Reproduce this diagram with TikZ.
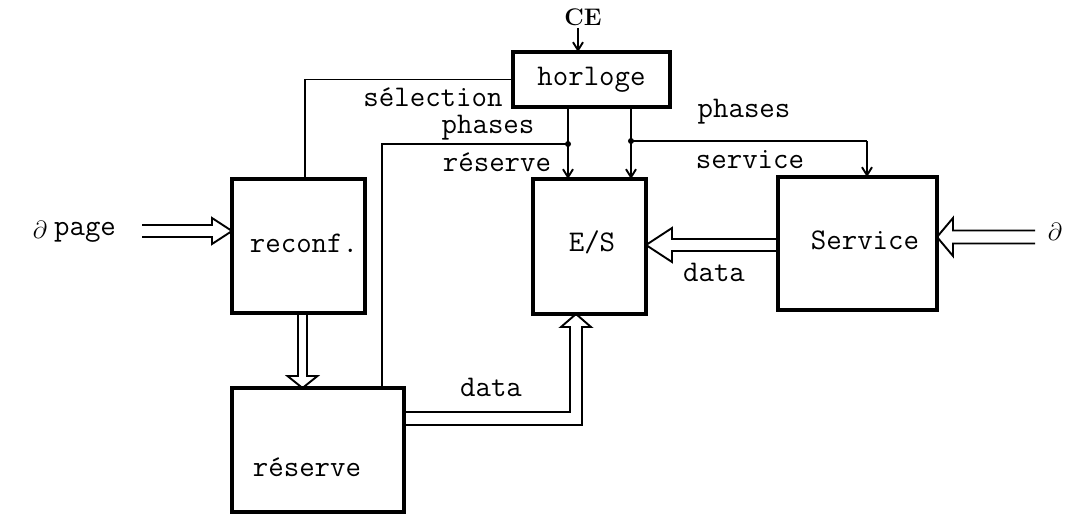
\documentclass[tikz,border=0pt]{standalone}
\usetikzlibrary{calc,arrows.meta}
\begin{document}
\begin{tikzpicture}[x=1pt,y=-1pt,
  box/.style={draw,line width=3.4pt,inner sep=0pt,outer sep=0pt,font=\ttfamily\fontsize{30}{34}\selectfont},
  lbl/.style={inner sep=0pt,font=\ttfamily\fontsize{30}{34}\selectfont},
  wire/.style={line width=1.9pt},
  arr/.style={wire,-{Straight Barb[length=8pt,width=10pt,line width=1.9pt]}},
  dbl/.style={line width=1.9pt,line join=miter}]
\useasboundingbox (0,0) rectangle (1074,516);
% boxes
\node[box,minimum width=157pt,minimum height=55pt] (horl) at (591.5,79.5) {horloge};
\node[box,minimum width=133pt,minimum height=134pt] (reconf) at (298.5,246) {};
\node[lbl] (reconfl) at (304,243) {reconf.};
\node[box,minimum width=113pt,minimum height=135pt] (es) at (589.5,246.5) {};
\node[lbl] (esl) at (592,242) {E/S};
\node[box,minimum width=159pt,minimum height=133pt] (serv) at (857.5,243.5) {};
\node[lbl] (servl) at (865,240) {Service};
\node[box,minimum width=172pt,minimum height=124pt] (res) at (318,450) {};
\node[lbl] (resl) at (307,467) {réserve};
% CE
\node[inner sep=0pt,font=\bfseries\fontsize{24}{28}\selectfont] (ce) at (583,17) {CE};
\draw[arr] (578,28) coordinate (ceb) -- (horl.north -| ceb);
% selection
\draw[wire] (horl.west) -| ([xshift=6.5pt]reconf.north);
\node[lbl] (sel) at (433,97) {sélection};
% phases reserve
\coordinate (j1) at (568,144);
\coordinate (r1) at (382,144);
\draw[arr] (horl.south -| j1) -- (es.north -| j1);
\draw[wire] (res.north -| r1) -- (r1) -- (j1);
\fill (j1) circle (3pt);
\node[lbl] (ph1) at (488,128) {phases};
\node[lbl] (re1) at (497,162) {réserve};
% phases service
\coordinate (j2) at (631,141);
\coordinate (c2) at (867,141);
\draw[arr] (horl.south -| j2) -- (es.north -| j2);
\draw[wire] (j2) -- (c2);
\draw[arr] (c2) -- (serv.north -| c2);
\fill (j2) circle (3pt);
\node[lbl] (ph2) at (744,112) {phases};
\node[lbl] (sv2) at (750,160) {service};
% left input
\node[inner sep=0pt,font=\fontsize{30}{34}\selectfont] (pa) at (40,230) {$\partial$};
\node[lbl] (page) at (85,232) {page};
\coordinate (pin) at (142,231);
\coordinate (ptip) at (reconf.west |- pin);
\draw[dbl] ($(pin)+(0,-6)$) -- ($(ptip)+(-20,-6)$) -- ($(ptip)+(-20,-13)$) -- (ptip) -- ($(ptip)+(-20,13)$) -- ($(ptip)+(-20,6)$) -- ($(pin)+(0,6)$);
% right input
\node[inner sep=0pt,font=\fontsize{30}{34}\selectfont] (pb) at (1055,232) {$\partial$};
\coordinate (rin) at (1035,237);
\coordinate (rtip) at (serv.east |- rin);
\draw[dbl] ($(rin)+(0,-6.5)$) -- ($(rtip)+(16,-6.5)$) -- ($(rtip)+(16,-19)$) -- (rtip) -- ($(rtip)+(16,19)$) -- ($(rtip)+(16,6.5)$) -- ($(rin)+(0,6.5)$);
% service -> E/S
\coordinate (stip) at (es.east |- 0,245);
\draw[dbl] ($(serv.west |- stip)+(0,-6)$) -- ($(stip)+(26,-6)$) -- ($(stip)+(26,-17)$) -- (stip) -- ($(stip)+(26,17)$) -- ($(stip)+(26,6)$) -- ($(serv.west |- stip)+(0,6)$);
\node[lbl] (d1) at (714,272) {data};
% reconf -> reserve
\coordinate (vtip) at (res.north -| 302.5,0);
\draw[dbl] ($(reconf.south -| vtip)+(-4.5,0)$) -- ($(vtip)+(-4.5,-12)$) -- ($(vtip)+(-15,-12)$) -- (vtip) -- ($(vtip)+(15,-12)$) -- ($(vtip)+(4.5,-12)$) -- ($(reconf.south -| vtip)+(4.5,0)$);
% reserve -> E/S
\coordinate (dtip) at (es.south -| 576,0);
\draw[dbl] (res.east |- 0,412) -- (570,412) -- ($(dtip)+(-6,13)$) -- ($(dtip)+(-15,13)$) -- (dtip) -- ($(dtip)+(15,13)$) -- ($(dtip)+(6,13)$) -- (582,425) -- (res.east |- 0,425);
\node[lbl] (d2) at (491,387) {data};
\end{tikzpicture}
\end{document}
